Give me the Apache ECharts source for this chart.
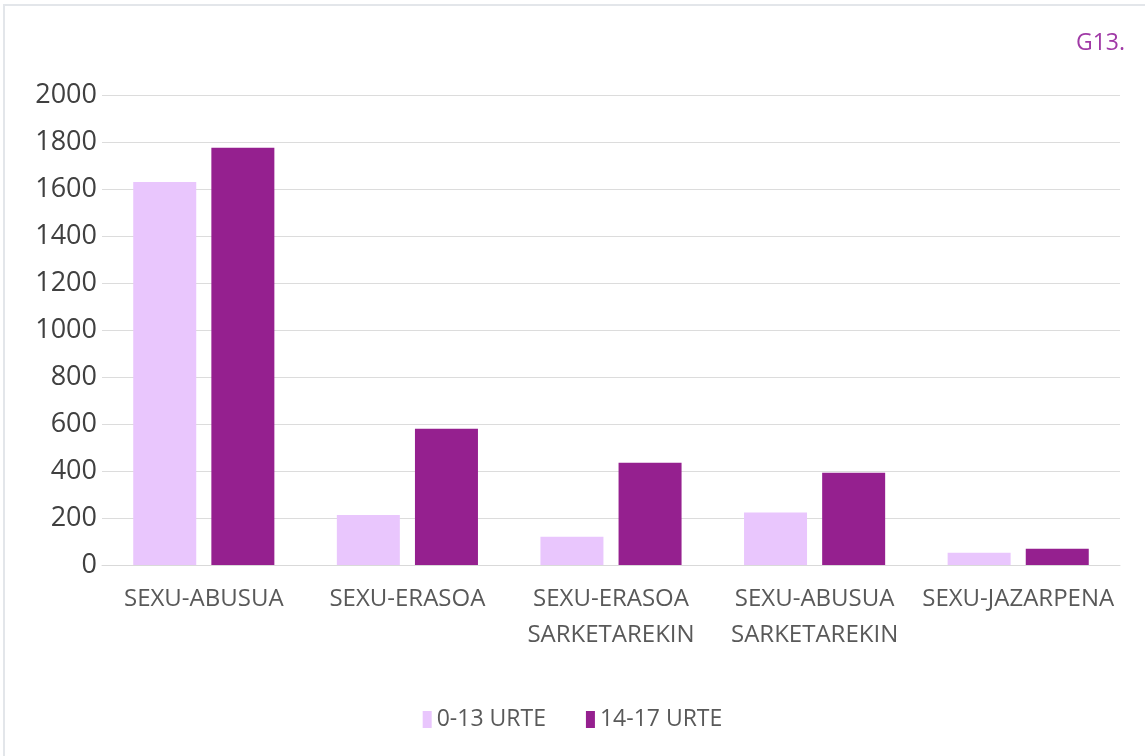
<!DOCTYPE html>
<html>
<head>
<meta charset="utf-8">
<script src="https://cdn.jsdelivr.net/npm/echarts@6/dist/echarts.min.js"></script>
<style>
  html, body { margin: 0; padding: 0; background: #fff; }
  #chart { width: 1145px; height: 756px; }
</style>
</head>
<body>
<div id="chart"></div>
<script>
// kategoriak eta balioak
const categories = ['SEXU-ABUSUA', 'SEXU-ERASOA', 'SEXU-ERASOA\nSARKETAREKIN', 'SEXU-ABUSUA\nSARKETAREKIN', 'SEXU-JAZARPENA'];
const seriesNames = ['0-13 URTE', '14-17 URTE'];
const young = [1630, 213, 120, 223, 52];
const teen = [1776, 580, 435, 393, 69];

const chart = echarts.init(document.getElementById('chart'));

const labelFont = '"Open Sans", sans-serif';

chart.setOption({
  animation: false,
  backgroundColor: '#fff',
  graphic: [
    {
      type: 'rect',
      shape: { x: 4, y: 5, width: 1160, height: 770 },
      style: { fill: 'none', stroke: '#e3e6ea', lineWidth: 2 }
    },
    {
      type: 'text',
      right: 20,
      top: 32,
      style: { text: 'G13.', fill: '#a03aa6', font: '23px "Open Sans", sans-serif' }
    }
  ],
  grid: { left: 102, right: 25, top: 95, bottom: 191 },
  legend: {
    data: seriesNames,
    bottom: 20,
    left: 'center',
    itemWidth: 9,
    itemHeight: 17,
    itemGap: 40,
    icon: 'rect',
    textStyle: { fontFamily: labelFont, fontSize: 23, color: '#595959' }
  },
  xAxis: {
    type: 'category',
    data: categories,
    axisTick: { show: false },
    axisLine: { lineStyle: { color: '#d9d9d9' } },
    axisLabel: {
      fontFamily: labelFont,
      fontSize: 24,
      color: '#595959',
      margin: 16,
      lineHeight: 36,
      interval: 0
    }
  },
  yAxis: {
    type: 'value',
    min: 0,
    max: 2000,
    interval: 200,
    axisLine: { show: false },
    axisTick: { show: false },
    splitLine: { lineStyle: { color: '#dcdcdc', width: 1 } },
    axisLabel: {
      fontFamily: '"Open Sans", sans-serif',
      fontSize: 27,
      color: '#404040',
      margin: 5,
      formatter: v => String(v)
    }
  },
  series: [
    {
      name: seriesNames[0],
      type: 'bar',
      data: young,
      barWidth: 63,
      barGap: '24%',
      itemStyle: { color: '#e9c6fd' }
    },
    {
      name: seriesNames[1],
      type: 'bar',
      data: teen,
      barWidth: 63,
      itemStyle: { color: '#95208f' }
    }
  ]
});
</script>
</body>
</html>
